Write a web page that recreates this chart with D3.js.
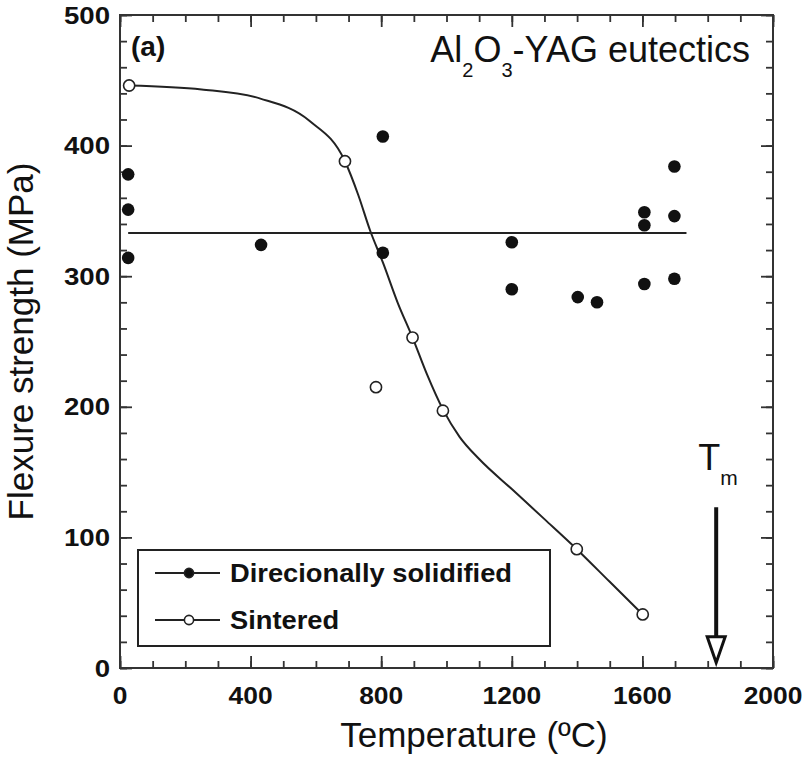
<!DOCTYPE html>
<html>
<head>
<meta charset="utf-8">
<script src="https://cdn.jsdelivr.net/npm/d3@7"></script>
<style>
  body { margin: 0; background: #fff; }
  svg { display: block; font-family: "Liberation Sans", Arial, sans-serif; }
</style>
</head>
<body>
<div id="chart"></div>
<script>
// directionally solidified samples
const dsTemp = [25, 25, 25, 432, 805, 805, 1200, 1200, 1402, 1461, 1606, 1606, 1606, 1698, 1698, 1698];
const dsStrength = [378, 351, 314, 324, 407, 318, 326, 290, 284, 280, 349, 339, 294, 384, 346, 298];

// sintered samples
const sinTemp = [28, 689, 784, 896, 989, 1399, 1601];
const sinStrength = [446, 388, 215, 253, 197, 91, 41];

// fitted curve through sintered data
const fitTemp = [28, 250, 430, 580, 689, 730, 766, 806, 850, 896, 940, 989, 1040, 1100, 1200, 1300, 1399, 1500, 1601];
const fitStrength = [446, 443, 436, 419, 388, 362, 335, 310, 280, 253, 225, 198, 177, 160, 137, 114, 91, 66, 41];

// mean level of the DS material
const dsMean = 333;
const dsMeanRange = [25, 1735];

// melting point arrow
const meltTemp = 1826;
const arrowRange = [123, 4];

const xTicks = [0, 400, 800, 1200, 1600, 2000];
const yTicks = [0, 100, 200, 300, 400, 500];
const legendLabels = ["Direcionally solidified", "Sintered"];

const width = 802, height = 759;
const margin = { top: 15, right: 29, bottom: 91, left: 120 };
const iw = width - margin.left - margin.right;
const ih = height - margin.top - margin.bottom;
const ink = "#111";

const svg = d3.select("#chart").append("svg")
  .attr("width", width)
  .attr("height", height);

const x = d3.scaleLinear([0, 2000], [0, iw]);
const y = d3.scaleLinear([0, 500], [ih, 0]);

const g = svg.append("g").attr("transform", `translate(${margin.left},${margin.top})`);

// ticks: inward on all four sides, major + minor
function tickAxis(axisFn, scale, values, len, transform) {
  const a = g.append("g")
    .attr("transform", transform)
    .call(axisFn(scale).tickValues(values).tickSize(-len).tickFormat(""));
  a.select(".domain").remove();
  a.selectAll("line").attr("stroke", "#333").attr("stroke-width", 1.8);
}
const xMinor = d3.range(0, 2001, 100);
const yMinor = d3.range(0, 501, 20);
tickAxis(d3.axisBottom, x, xMinor, 7, `translate(0,${ih})`);
tickAxis(d3.axisBottom, x, xTicks, 12, `translate(0,${ih})`);
tickAxis(d3.axisTop, x, xMinor, 7, "translate(0,0)");
tickAxis(d3.axisTop, x, xTicks, 12, "translate(0,0)");
tickAxis(d3.axisLeft, y, yMinor, 7, "translate(0,0)");
tickAxis(d3.axisLeft, y, yTicks, 12, "translate(0,0)");
tickAxis(d3.axisRight, y, yMinor, 7, `translate(${iw},0)`);
tickAxis(d3.axisRight, y, yTicks, 12, `translate(${iw},0)`);

g.append("rect")
  .attr("width", iw)
  .attr("height", ih)
  .attr("fill", "none")
  .attr("stroke", "#333")
  .attr("stroke-width", 2);

// tick labels
g.selectAll(".xlab")
  .data(xTicks)
  .join("text")
  .attr("transform", (d) => `translate(${x(d)},${ih + 36}) scale(1.1,1)`)
  .attr("text-anchor", "middle")
  .attr("font-size", 24)
  .attr("font-weight", "bold")
  .attr("fill", ink)
  .text((d) => d);

g.selectAll(".ylab")
  .data(yTicks)
  .join("text")
  .attr("transform", (d) => `translate(-10,${y(d) + 8.5}) scale(1.15,1)`)
  .attr("text-anchor", "end")
  .attr("font-size", 24)
  .attr("font-weight", "bold")
  .attr("fill", ink)
  .text((d) => d);

// axis titles
svg.append("text")
  .attr("x", 474)
  .attr("y", 747)
  .attr("text-anchor", "middle")
  .attr("font-size", 35)
  .attr("fill", ink)
  .text("Temperature (\u00BAC)");

svg.append("text")
  .attr("transform", `translate(33,${margin.top + ih / 2}) rotate(-90)`)
  .attr("text-anchor", "middle")
  .attr("font-size", 35)
  .attr("fill", ink)
  .text("Flexure strength (MPa)");

// panel label and title
svg.append("text")
  .attr("x", 131)
  .attr("y", 56)
  .attr("font-size", 28)
  .attr("font-weight", "bold")
  .attr("fill", ink)
  .text("(a)");

const title = svg.append("text")
  .attr("x", 750)
  .attr("y", 62)
  .attr("text-anchor", "end")
  .attr("font-size", 36)
  .attr("fill", ink);
title.append("tspan").text("Al");
title.append("tspan").attr("dy", 15).attr("font-size", 20).text("2");
title.append("tspan").attr("dy", -15).text("O");
title.append("tspan").attr("dy", 15).attr("font-size", 20).text("3");
title.append("tspan").attr("dy", -15).text("-YAG eutectics");

// DS mean line
g.append("line")
  .attr("x1", x(dsMeanRange[0]))
  .attr("x2", x(dsMeanRange[1]))
  .attr("y1", y(dsMean))
  .attr("y2", y(dsMean))
  .attr("stroke", "#222")
  .attr("stroke-width", 2);

// sintered fit curve
const fitPts = fitTemp.map((t, i) => [x(t), y(fitStrength[i])]);
g.append("path")
  .attr("d", d3.line().curve(d3.curveMonotoneX)(fitPts))
  .attr("fill", "none")
  .attr("stroke", "#222")
  .attr("stroke-width", 2);

// markers
g.selectAll(".ds")
  .data(dsTemp)
  .join("circle")
  .attr("cx", (d) => x(d))
  .attr("cy", (d, i) => y(dsStrength[i]))
  .attr("r", 6.3)
  .attr("fill", ink);

g.selectAll(".sin")
  .data(sinTemp)
  .join("circle")
  .attr("cx", (d) => x(d))
  .attr("cy", (d, i) => y(sinStrength[i]))
  .attr("r", 5.6)
  .attr("fill", "#fff")
  .attr("stroke", "#222")
  .attr("stroke-width", 1.6);

// melting point arrow
const ax = x(meltTemp);
const headTop = y(arrowRange[1]) - 26;
g.append("line")
  .attr("x1", ax)
  .attr("x2", ax)
  .attr("y1", y(arrowRange[0]))
  .attr("y2", headTop)
  .attr("stroke", ink)
  .attr("stroke-width", 4);
g.append("path")
  .attr("d", `M${ax - 9},${headTop} L${ax + 9},${headTop} L${ax},${y(arrowRange[1])} Z`)
  .attr("fill", "#fff")
  .attr("stroke", ink)
  .attr("stroke-width", 3)
  .attr("stroke-linejoin", "miter");

const tm = g.append("text")
  .attr("x", ax - 18)
  .attr("y", 455)
  .attr("font-size", 36)
  .attr("fill", ink);
tm.append("tspan").text("T");
tm.append("tspan").attr("dy", 15).attr("font-size", 21).text("m");

// legend
const leg = svg.append("g").attr("transform", "translate(138,550)");
leg.append("rect")
  .attr("width", 412)
  .attr("height", 96)
  .attr("fill", "#fff")
  .attr("stroke", "#222")
  .attr("stroke-width", 2);

const rows = leg.selectAll(".row")
  .data(legendLabels)
  .join("g")
  .attr("transform", (d, i) => `translate(0,${23 + i * 47})`);
rows.append("line")
  .attr("x1", 17)
  .attr("x2", 82)
  .attr("stroke", "#222")
  .attr("stroke-width", 2);
rows.append("circle")
  .attr("cx", 51)
  .attr("r", 4.6)
  .attr("fill", (d, i) => (i === 0 ? ink : "#fff"))
  .attr("stroke", "#222")
  .attr("stroke-width", 1.6);
rows.append("text")
  .attr("transform", "translate(92,9) scale(1.05,1)")
  .attr("font-size", 26)
  .attr("font-weight", "bold")
  .attr("fill", ink)
  .text((d) => d);
</script>
</body>
</html>
